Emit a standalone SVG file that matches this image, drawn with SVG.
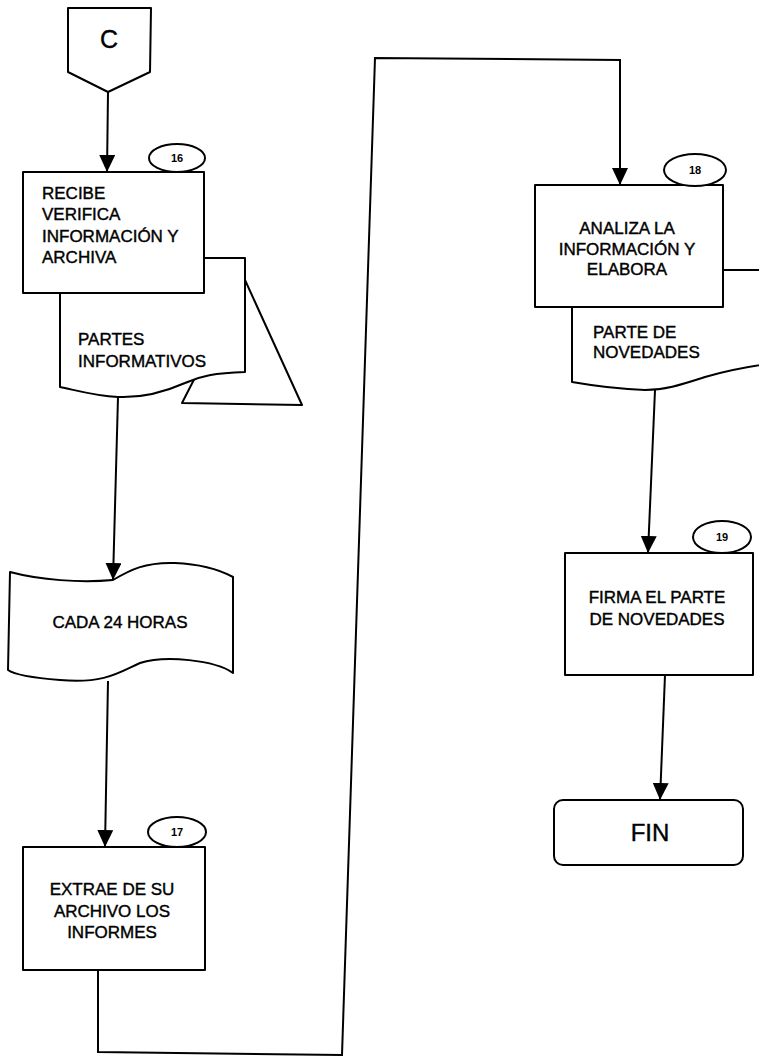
<svg xmlns="http://www.w3.org/2000/svg" width="759" height="1056" viewBox="0 0 759 1056">
<style>
.s{fill:#fff;stroke:#000;stroke-width:2;stroke-linejoin:round}
.t{font-family:"Liberation Sans",Arial,sans-serif;font-size:17px;fill:#000;stroke:#000;stroke-width:0.4}
.n{font-family:"Liberation Sans",Arial,sans-serif;font-size:11px;font-weight:bold;fill:#000}
.c{text-anchor:middle}
.l{fill:none;stroke:#000;stroke-width:2}
</style>
<defs>
<marker id="a" markerUnits="userSpaceOnUse" markerWidth="18" markerHeight="18" refX="17" refY="8" orient="auto">
<path d="M0,0 L17,8 L0,16 Z" fill="#000"/>
</marker>
</defs>
<rect width="759" height="1056" fill="#fff"/>
<g id="connectorC">
<polygon class="s" points="68,8 151,8 150,72 108,92 68,72"/>
<text class="t c" x="109" y="48" style="font-size:25px">C</text>
</g>
<g id="doc16">
<polygon class="s" points="245,280 302,405 182,403"/>
<path class="s" d="M60,258 L245,258 L245,372 C215,373 200,376 185,383 C160,394 140,398 118,397 C95,396 75,390 60,387 Z"/>
<text class="t" x="78" y="345">PARTES</text>
<text class="t" x="78" y="367">INFORMATIVOS</text>
</g>
<g id="node16">
<rect class="s" x="23" y="172" width="181" height="121"/>
<text class="t" x="42" y="199">RECIBE</text>
<text class="t" x="42" y="220">VERIFICA</text>
<text class="t" x="42" y="242">INFORMACIÓN Y</text>
<text class="t" x="42" y="263">ARCHIVA</text>
<ellipse class="s" cx="177" cy="158" rx="28" ry="14"/>
<text class="n c" x="177" y="162">16</text>
</g>
<g id="tape">
<path class="s" d="M10,572 C40,580 80,583 113,580 C130,570 145,562 175,563 C200,564 220,570 233,577 L233,673 C215,660 165,655 140,663 C120,672 105,684 60,680 C35,678 15,675 8,670 Z"/>
<text class="t c" x="120" y="628">CADA 24 HORAS</text>
</g>
<g id="node17">
<rect class="s" x="23" y="847" width="182" height="123"/>
<text class="t c" x="112" y="895">EXTRAE DE SU</text>
<text class="t c" x="112" y="917">ARCHIVO LOS</text>
<text class="t c" x="112" y="938">INFORMES</text>
<ellipse class="s" cx="177" cy="832" rx="29" ry="15"/>
<text class="n c" x="177" y="836">17</text>
</g>
<g id="doc18">
<path class="s" d="M572,270 L790,270 L790,362 C760,364 730,370 705,377 C680,385 665,390 645,390 C615,389 595,386 572,382 Z"/>
<text class="t" x="593" y="338">PARTE DE</text>
<text class="t" x="593" y="358">NOVEDADES</text>
</g>
<g id="node18">
<rect class="s" x="535" y="185" width="188" height="122"/>
<text class="t c" x="627" y="234">ANALIZA LA</text>
<text class="t c" x="627" y="255">INFORMACIÓN Y</text>
<text class="t c" x="627" y="275">ELABORA</text>
<ellipse class="s" cx="695" cy="170" rx="31" ry="16"/>
<text class="n c" x="695" y="174">18</text>
</g>
<g id="node19">
<rect class="s" x="565" y="553" width="188" height="122"/>
<text class="t c" x="657" y="603">FIRMA EL PARTE</text>
<text class="t c" x="657" y="625">DE NOVEDADES</text>
<ellipse class="s" cx="722" cy="537" rx="29" ry="16"/>
<text class="n c" x="722" y="541">19</text>
</g>
<g id="fin">
<rect class="s" x="554" y="800" width="189" height="65" rx="9"/>
<text class="t c" x="650" y="841" style="font-size:24px">FIN</text>
</g>
<g id="connectors">
<line class="l" x1="108" y1="92" x2="107" y2="172" marker-end="url(#a)"/>
<line class="l" x1="118" y1="397" x2="113" y2="580" marker-end="url(#a)"/>
<line class="l" x1="108" y1="681" x2="105" y2="847" marker-end="url(#a)"/>
<polyline class="l" points="98,970 98,1052 342,1055 375,58 620,60 620,185" marker-end="url(#a)"/>
<line class="l" x1="655" y1="390" x2="648" y2="553" marker-end="url(#a)"/>
<line class="l" x1="665" y1="675" x2="660" y2="800" marker-end="url(#a)"/>
</g>
</svg>
